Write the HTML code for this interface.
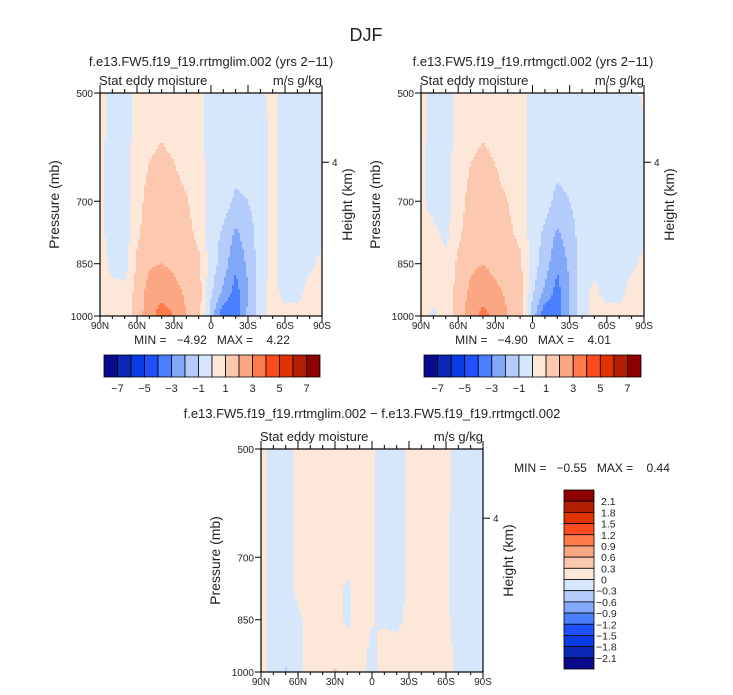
<!DOCTYPE html>
<html><head><meta charset="utf-8"><style>
body{margin:0;background:#fff;}
svg{display:block;font-family:"Liberation Sans","DejaVu Sans",sans-serif;}
text{fill:#222;}
</style></head><body>
<svg id="chart" width="733" height="695" viewBox="0 0 733 695"></svg>
<script>
// ---- data ----
const lats = [90,80,70,60,50,40,30,20,10,0,-10,-20,-30,-40,-50,-60,-70,-80,-90];
const levels = [500,600,700,775,850,925,1000];
const latTicks = [90,60,30,0,-30,-60,-90];
const latTickLabels = ["90N","60N","30N","0","30S","60S","90S"];
const presTicks = [500,700,850,1000];
const mainBounds = [-7,-6,-5,-4,-3,-2,-1,0,1,2,3,4,5,6,7];
const mainBarLabels = ["-7","-5","-3","-1","1","3","5","7"];
const diffBounds = [-2.1,-1.8,-1.5,-1.2,-0.9,-0.6,-0.3,0,0.3,0.6,0.9,1.2,1.5,1.8,2.1];
const diffBarLabels = ["2.1","1.8","1.5","1.2","0.9","0.6","0.3","0","\u22120.3","\u22120.6","\u22120.9","\u22121.2","\u22121.5","\u22121.8","\u22122.1"];
const palette = ['#0a0a8c','#0a28b4','#0a3ce6','#1e50ff','#4a80ff','#82a8fa','#b4ccfc','#d6e7fb','#fde7d8','#fcc9b0','#fca784','#ff7a4a','#ff4a1e','#e03200','#b41e00','#8c0000'];
const limValues = [
 [0.5,-0.5,-0.5,0.3,0.5,0.5,0.5,0.5,0.5,-0.5,-0.5,-0.5,-0.5,-0.5,0.5,-0.5,-0.5,-0.5,-0.5],
 [0.3,-0.5,-0.5,0.5,0.9,1.1,0.9,0.5,0.5,-0.5,-0.5,-0.5,-0.5,-0.5,0.3,-0.5,-0.5,-0.5,-0.5],
 [0.3,-0.5,-0.5,0.6,1.4,1.6,1.4,1.1,0.5,-0.3,-0.5,-1.2,-1.0,-0.5,0.3,-0.5,-0.5,-0.5,-0.5],
 [0.3,-0.5,-0.5,0.8,1.6,1.8,1.6,1.3,0.8,-0.5,-1.2,-2.2,-1.5,-0.5,0.3,-0.5,-0.5,-0.5,-0.3],
 [0.5,-0.3,-0.5,1.2,1.9,2.0,1.8,1.5,1.2,-0.5,-1.5,-2.8,-1.8,-0.5,0.3,-0.5,-0.5,-0.3,0.3],
 [0.5,0.3,0.3,1.3,2.4,2.6,2.3,1.8,1.5,-0.8,-2.2,-3.4,-2.0,-0.5,0.5,-0.5,-0.5,0.5,0.8],
 [0.5,0.5,0.5,1.5,2.6,3.5,3.0,2,1.5,-1.5,-3.8,-3.6,-1.8,-0.5,0.5,0.5,0.5,0.5,0.8]];
const ctlValues = [
 [0.5,-0.5,-0.5,0.3,0.5,0.5,0.5,0.5,0.5,-0.5,-0.5,-0.5,-0.5,-0.5,-0.5,-0.5,-0.5,-0.5,0.3],
 [0.3,-0.5,-0.5,0.5,0.9,1.1,0.9,0.5,0.5,-0.5,-0.5,-0.5,-0.5,-0.5,-0.5,-0.5,-0.5,-0.5,-0.5],
 [0.3,-0.5,-0.5,0.6,1.3,1.6,1.3,1.0,0.5,-0.3,-0.6,-1.3,-1.0,-0.5,-0.5,-0.5,-0.5,-0.5,-0.5],
 [0.5,0.3,-0.3,0.8,1.5,1.8,1.5,1.2,0.8,-0.5,-1.2,-2.2,-1.5,-0.5,-0.5,-0.5,-0.5,-0.5,-0.3],
 [0.5,0.5,0.3,1.2,1.8,2.0,1.7,1.5,1.2,-0.5,-1.5,-2.8,-1.8,-0.5,-0.5,-0.5,-0.5,-0.3,0.3],
 [0.5,0.5,0.5,1.3,2.2,2.6,2.2,1.8,1.5,-0.8,-2.2,-3.4,-2.0,-0.5,0.3,-0.5,-0.5,0.5,0.5],
 [0.5,-0.3,0.5,1.5,2.6,3.3,2.8,2,1.5,-1.5,-3.8,-3.6,-1.8,-0.5,0.5,0.5,0.5,0.5,0.5]];
const diffValues = [
 [0.1,-0.1,-0.1,0.05,0.1,0.1,0.1,0.1,0.1,0.02,-0.1,-0.1,0.05,0.1,0.1,0.05,-0.1,-0.1,-0.1],
 [0.1,-0.1,-0.1,0.05,0.1,0.1,0.1,0.1,0.1,0.02,-0.1,-0.1,0.05,0.1,0.1,0.05,-0.1,-0.1,-0.1],
 [0.1,-0.1,-0.1,0.05,0.1,0.1,0.1,0.1,0.1,0.02,-0.1,-0.1,0.05,0.1,0.1,0.02,-0.1,-0.1,-0.1],
 [0.1,-0.1,-0.1,0.05,0.1,0.1,0.1,-0.05,0.1,0.02,-0.1,-0.1,0.05,0.1,0.1,0.02,-0.1,-0.1,-0.1],
 [0.1,-0.1,-0.1,-0.05,0.1,0.1,0.1,-0.05,0.1,0.02,-0.05,-0.05,0.05,0.1,0.1,0.05,-0.1,-0.1,-0.1],
 [0.1,-0.1,-0.1,-0.05,0.1,0.1,0.1,0.1,0.1,-0.05,0.1,0.05,0.1,0.1,0.1,0.1,-0.1,-0.1,-0.1],
 [0.1,-0.1,-0.35,-0.05,0.1,0.1,0.35,0.1,0.1,-0.1,0.1,0.1,0.1,0.1,0.1,0.1,-0.1,-0.1,-0.1]];

const NS='http://www.w3.org/2000/svg';
const svg=document.getElementById('chart');
function mk(tag,attrs,parent){const e=document.createElementNS(NS,tag);for(const k in attrs)e.setAttribute(k,attrs[k]);(parent||svg).appendChild(e);return e;}
function txt(s,x,y,size,anchor,parent,extra){const t=mk('text',Object.assign({x:x,y:y,'font-size':size,'text-anchor':anchor||'start'},extra||{}),parent);t.textContent=s;return t;}
function colorFor(v,b){let i=0;while(i<b.length&&v>=b[i])i++;return palette[i];}

function panel(name,x0,y0,w,h,values,bounds){
  const g=mk('g',{});
  
  
  const xs=lat=>x0+(90-lat)/180*w;
  const ys=p=>y0+h*(Math.log(p/500)/Math.log(2));
  const rowY=levels.map(ys);
  const step=2;
  for(let py=y0;py<y0+h;py+=step){
    const cy=py+step/2;
    let r=0;while(r<levels.length-2&&cy>rowY[r+1])r++;
    const fy=Math.max(0,Math.min(1,(cy-rowY[r])/(rowY[r+1]-rowY[r])));
    for(let px=x0;px<x0+w;px+=step){
      const cx=px+step/2;
      const fl=(cx-x0)/w*(lats.length-1);
      let c=Math.min(lats.length-2,Math.floor(fl));const fx=fl-c;
      const v=(values[r][c]*(1-fx)+values[r][c+1]*fx)*(1-fy)+(values[r+1][c]*(1-fx)+values[r+1][c+1]*fx)*fy;
      const cell=mk('rect',{x:px,y:py,width:Math.min(step,x0+w-px)+0.3,height:Math.min(step,y0+h-py)+0.3,fill:colorFor(v,bounds)},g);
      
      
    }
  }
  const fr=mk('rect',{x:x0,y:y0,width:w,height:h,fill:'none',stroke:'#000','stroke-width':1.2},g);
  
  
  for(let lat=90;lat>=-90;lat-=10){
    const major=lat%30===0;const x=xs(lat);
    mk('line',{x1:x,x2:x,y1:y0,y2:y0-(major?8:4),stroke:'#000'},g);
    mk('line',{x1:x,x2:x,y1:y0+h,y2:y0+h+(major?6:3),stroke:'#000'},g);
  }
  latTicks.forEach((lat,i)=>{const t=txt(latTickLabels[i],xs(lat),y0+h+13,10,'middle',g);
    });
  presTicks.forEach(p=>{const y=ys(p);mk('line',{x1:x0,x2:x0-6,y1:y,y2:y,stroke:'#000'},g);
    const t=txt(String(p),x0-7,y+4,10,'end',g);
    });
  const hy=ys(620);mk('line',{x1:x0+w,x2:x0+w+7,y1:hy,y2:hy,stroke:'#000'},g);
  const t4=txt('4',x0+w+10,hy+4,10,'start',g);
  
  const yl=txt('Pressure (mb)',x0-41,y0+h/2,14,'middle',g,{transform:`rotate(-90 ${x0-41} ${y0+h/2})`});
  
  const yr=txt('Height (km)',x0+w+30,y0+h/2,14,'middle',g,{transform:`rotate(-90 ${x0+w+30} ${y0+h/2})`});
  
  const st=txt('Stat eddy moisture',x0-1,y0-8,13,'start',g);
  
  const un=txt('m/s g/kg',x0+w,y0-8,13,'end',g);
  
  return g;
}
function hbar(name,x0,y0,w,h){
  const g=mk('g',{});
  
  
  const bw=w/palette.length;
  palette.forEach((c,i)=>{const r=mk('rect',{x:x0+i*bw,y:y0,width:bw,height:h,fill:c,stroke:'#000','stroke-width':0.8},g);
    });
  mainBarLabels.forEach((s,i)=>{const t=txt(s.replace('-','\u2212'),x0+(1+2*i)*bw,y0+h+15,11,'middle',g);
    });
  return g;
}
function vbar(name,x0,y0,w,h){
  const g=mk('g',{});
  
  
  const bh=h/palette.length;
  palette.slice().reverse().forEach((c,i)=>{const r=mk('rect',{x:x0,y:y0+i*bh,width:w,height:bh,fill:c,stroke:'#000','stroke-width':0.8},g);
    });
  diffBarLabels.forEach((s,i)=>{const t=txt(s,x0+w+2+(s[0]==='\u2212'?0:5),y0+(i+1)*bh+4,10.5,'start',g);
    });
  return g;
}

const ti=txt('DJF',366,41,18,'middle');
const t1=txt('f.e13.FW5.f19_f19.rrtmglim.002 (yrs 2\u221211)',211,66,13,'middle');
const t2=txt('f.e13.FW5.f19_f19.rrtmgctl.002 (yrs 2\u221211)',533,66,13,'middle');
const t3=txt('f.e13.FW5.f19_f19.rrtmglim.002 \u2212 f.e13.FW5.f19_f19.rrtmgctl.002',372,418,13,'middle');

panel('lim-panel',100,93,222,223,limValues,mainBounds);
panel('ctl-panel',421,93,223,223,ctlValues,mainBounds);
panel('diff-panel',261,449,222,223,diffValues,diffBounds);

const m1=txt('MIN =   \u22124.92   MAX =    4.22',212,344,12,'middle',null,{'xml:space':'preserve'});
const m2=txt('MIN =   \u22124.90   MAX =    4.01',533,344,12,'middle',null,{'xml:space':'preserve'});
const m3=txt('MIN =   \u22120.55   MAX =    0.44',592,472,12,'middle',null,{'xml:space':'preserve'});
m1.style.whiteSpace='pre';m2.style.whiteSpace='pre';m3.style.whiteSpace='pre';

hbar('panel1-colorbar',104,355,216,22);
hbar('panel2-colorbar',424,355,217,22);
vbar('diff-colorbar',564,490,30,179);
</script>
</body></html>
